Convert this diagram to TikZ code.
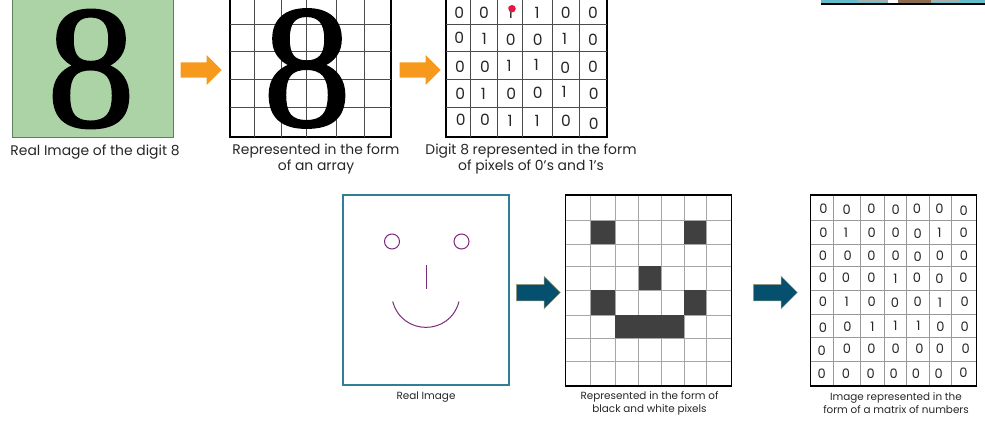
\documentclass[tikz,border=0pt]{standalone}
\usepackage{fontspec}
\setmainfont{Poppins}
\newfontfamily\serifdigit[FakeBold=1.2]{Liberation Serif}
\usetikzlibrary{shapes.arrows}
\definecolor{leafgreen}{HTML}{ACD3A6}
\definecolor{framegreen}{HTML}{5E7F60}
\definecolor{arroworange}{HTML}{F7991C}
\definecolor{arrowblue}{HTML}{05506F}
\definecolor{arrowedge}{HTML}{A89F7A}
\definecolor{frameteal}{HTML}{2F7F97}
\definecolor{facepurple}{HTML}{7B2D7B}
\definecolor{pixelgrey}{HTML}{404040}
\definecolor{captiongrey}{HTML}{262626}
\definecolor{pinred}{HTML}{E8173F}
\definecolor{stripteal}{HTML}{62BCCB}
\definecolor{stripbrown}{HTML}{8A6B4F}
\definecolor{stripgrey}{HTML}{A9AFA8}
\tikzset{panel/.style={draw=black, line width=1.4pt, fill=white, inner sep=0pt, outer sep=0pt, anchor=north west},
bigeight/.style={inner sep=0pt, font=\fontsize{176}{176}\serifdigit},
gridline/.style={draw=#1, line width=0.7pt},
gridline/.default={black!70},
bit/.style={inner sep=0pt, font=\fontsize{#1}{#1}\selectfont, text=black!85},
bit/.default={15.5},
capbig/.style={align=center, inner sep=0pt, text=captiongrey, font=\fontsize{13.9}{16}\selectfont},
capsmall/.style={align=center, inner sep=0pt, text=captiongrey, font=\fontsize{10.4}{13}\selectfont},
blockarrow/.style={single arrow, shape border rotate=0, anchor=tip, inner xsep=0pt, single arrow tip angle=90},
orangearrow/.style={blockarrow, fill=arroworange, inner ysep=7.5pt, minimum height=41pt, minimum width=30pt, single arrow head extend=7.5pt},
bluearrow/.style={blockarrow, fill=arrowblue, draw=arrowedge, line width=0.5pt, inner ysep=8pt, minimum height=44pt, minimum width=32pt, single arrow head extend=8pt},
facestroke/.style={draw=facepurple, line width=1pt}}

\begin{document}
\begin{tikzpicture}[x=1pt, y=-1pt]
\path[use as bounding box, clip] (0,0) rectangle (985,422);
% top row
\node[panel, draw=framegreen, line width=1pt, fill=leafgreen, minimum width=161pt, minimum height=148pt] (realEight) at (12,-10) {};
\node[bigeight] (digitA) at (91,69) {8};
\node[capbig] (capA) at (95,152) {Real Image of the digit 8};
\node[orangearrow] (arrowA) at (222,70) {};

\node[panel, minimum width=161pt, minimum height=147pt] (arrayEight) at (230,-10) {};
\foreach \x in {254,281.5,306.5,336,364}
  \draw[gridline] (\x,0) -- (\x,137);
\foreach \y in {24.5,51,79.5,107}
  \draw[gridline] (230,\y) -- (391,\y);
\node[bigeight] (digitB) at (307,68.5) {8};
\node[capbig] (capB) at (316,158.5) {Represented in the form\\of an array};
\node[orangearrow] (arrowB) at (441,70) {};

\node[panel, minimum width=161pt, minimum height=147pt] (bitsEight) at (446,-10) {};
\foreach \x in {470,497.3,522.7,552,579.3}
  \draw[gridline] (\x,0) -- (\x,137);
\foreach \y in {24.5,51,79.5,107}
  \draw[gridline] (446,\y) -- (607,\y);
% positions read off the zoomed crop
\foreach \x/\y/\d [count=\i] in {58/38/0,132/38/0,212/40/1,291/38/1,377/37/0,459/38/0,
  58/112/0,133/118/1,212/118/0,293/118/0,374/116/1,459/118/0,
  60/200/0,135/200/0,207/198/1,289/196/1,376/203/0,459/200/0,
  61/282/0,130/282/1,214/281/0,293/277/0,372/277/1,461/282/0,
  62/360/0,135/360/0,210/362/1,291/362/1,378/362/0,461/370/0}
  \node[bit] (eight\i) at (440+\x/3,\y/3) {\d};
\node[fill=pinred, circle, minimum size=7.5pt, inner sep=0pt] (pin) at (512,8.7) {};
\node[capbig] (capC) at (531,158.5) {Digit 8 represented in the form\\of pixels of 0's and 1's};

% strip of the cut off picture
\fill[stripteal] (821,0) rectangle (985,3.5);
\fill[stripgrey] (858,0) rectangle (888,2);
\fill[white] (888,0) rectangle (898,3);
\fill[stripbrown] (898,0) rectangle (931,3);
\fill[stripgrey] (931,0) rectangle (960,2);
\fill[black] (821,3.5) rectangle (985,5.5);

% bottom row
\node[panel, draw=frameteal, line width=1.2pt, minimum width=166pt, minimum height=190pt] (faceBox) at (343,195) {};
\node[draw=facepurple, line width=1pt, circle, minimum size=15pt, inner sep=0pt] (eyeL) at (392,241.5) {};
\node[draw=facepurple, line width=1pt, circle, minimum size=15pt, inner sep=0pt] (eyeR) at (461.5,241.5) {};
\coordinate (noseTop) at (426.7,265);
\coordinate (noseEnd) at (426.7,289);
\draw[facestroke] (noseTop) -- (noseEnd);
\coordinate (mouthL) at (392.7,301.5);
\coordinate (mouthR) at (459,301.5);
\draw[facestroke] (mouthL) .. controls (402,336) and (450,336) .. (mouthR);
\node[capsmall] (capD) at (426,397.5) {Real Image};
\node[bluearrow] (arrowC) at (560.7,292.5) {};

\node[panel, minimum width=166pt, minimum height=191pt] (pixelBox) at (565.5,195) {};
\foreach \x in {590.7,615,638.3,661,684.3,706.3}
  \draw[gridline=black!35] (\x,195) -- (\x,386);
\foreach \y in {220.7,244,266,290,315,338.3,361.7}
  \draw[gridline=black!35] (565.5,\y) -- (731.5,\y);
\foreach \x/\y/\w/\h in {591/221/24/23,684/221/22/23,639/266/22/24,591/290/24/25,684/290/22/25,615/315/69/23}
  \fill[pixelgrey] (\x,\y) rectangle (\x+\w,\y+\h);
\node[panel, fill=none, minimum width=166pt, minimum height=191pt] (pixelFrame) at (565.5,195) {};
\node[capsmall] (capE) at (649.5,403) {Represented in the form of\\black and white pixels};
\node[bluearrow] (arrowD) at (797.7,292.5) {};

\node[panel, minimum width=166pt, minimum height=191pt] (matrixBox) at (810.7,195) {};
\foreach \x in {833.3,860,884,906.7,929.3,951.7}
  \draw[gridline=black!40] (\x,195) -- (\x,386);
\foreach \y in {220,244,266,290,314,337,361.7}
  \draw[gridline=black!40] (810.7,\y) -- (976.7,\y);
\node[panel, fill=none, minimum width=166pt, minimum height=191pt] (matrixFrame) at (810.7,195) {};
\foreach \x/\y/\d [count=\i] in {490/72/0,560/74/0,634/72/0,707/74/0,771/72/0,838/72/0,911/76/0,
  490/144/0,558/143/1,635/144/0,707/144/0,773/146/0,838/143/1,911/144/0,
  489/212/0,563/212/0,634/212/0,707/212/0,773/214/0,840/212/0,912/212/0,
  489/279/0,558/279/0,634/279/0,706/281/1,771/279/0,838/281/0,910/279/0,
  489/351/0,560/351/1,635/351/0,705/354/0,773/351/0,840/353/1,914/349/0,
  489/427/0,562/425/0,637/425/1,706/423/1,775/421/1,841/425/0,914/425/0,
  485/497/0,561/491/0,634/491/0,707/491/0,778/491/0,840/491/0,917/491/0,
  485/565/0,558/565/0,632/565/0,701/565/0,768/565/0,836/565/0,910/563/0}
  \node[bit=13] (num\i) at (660+\x/3,185+\y/3) {\d};
\node[capsmall] (capF) at (896,403.5) {Image represented in the\\form of a matrix of numbers};
\end{tikzpicture}
\end{document}
